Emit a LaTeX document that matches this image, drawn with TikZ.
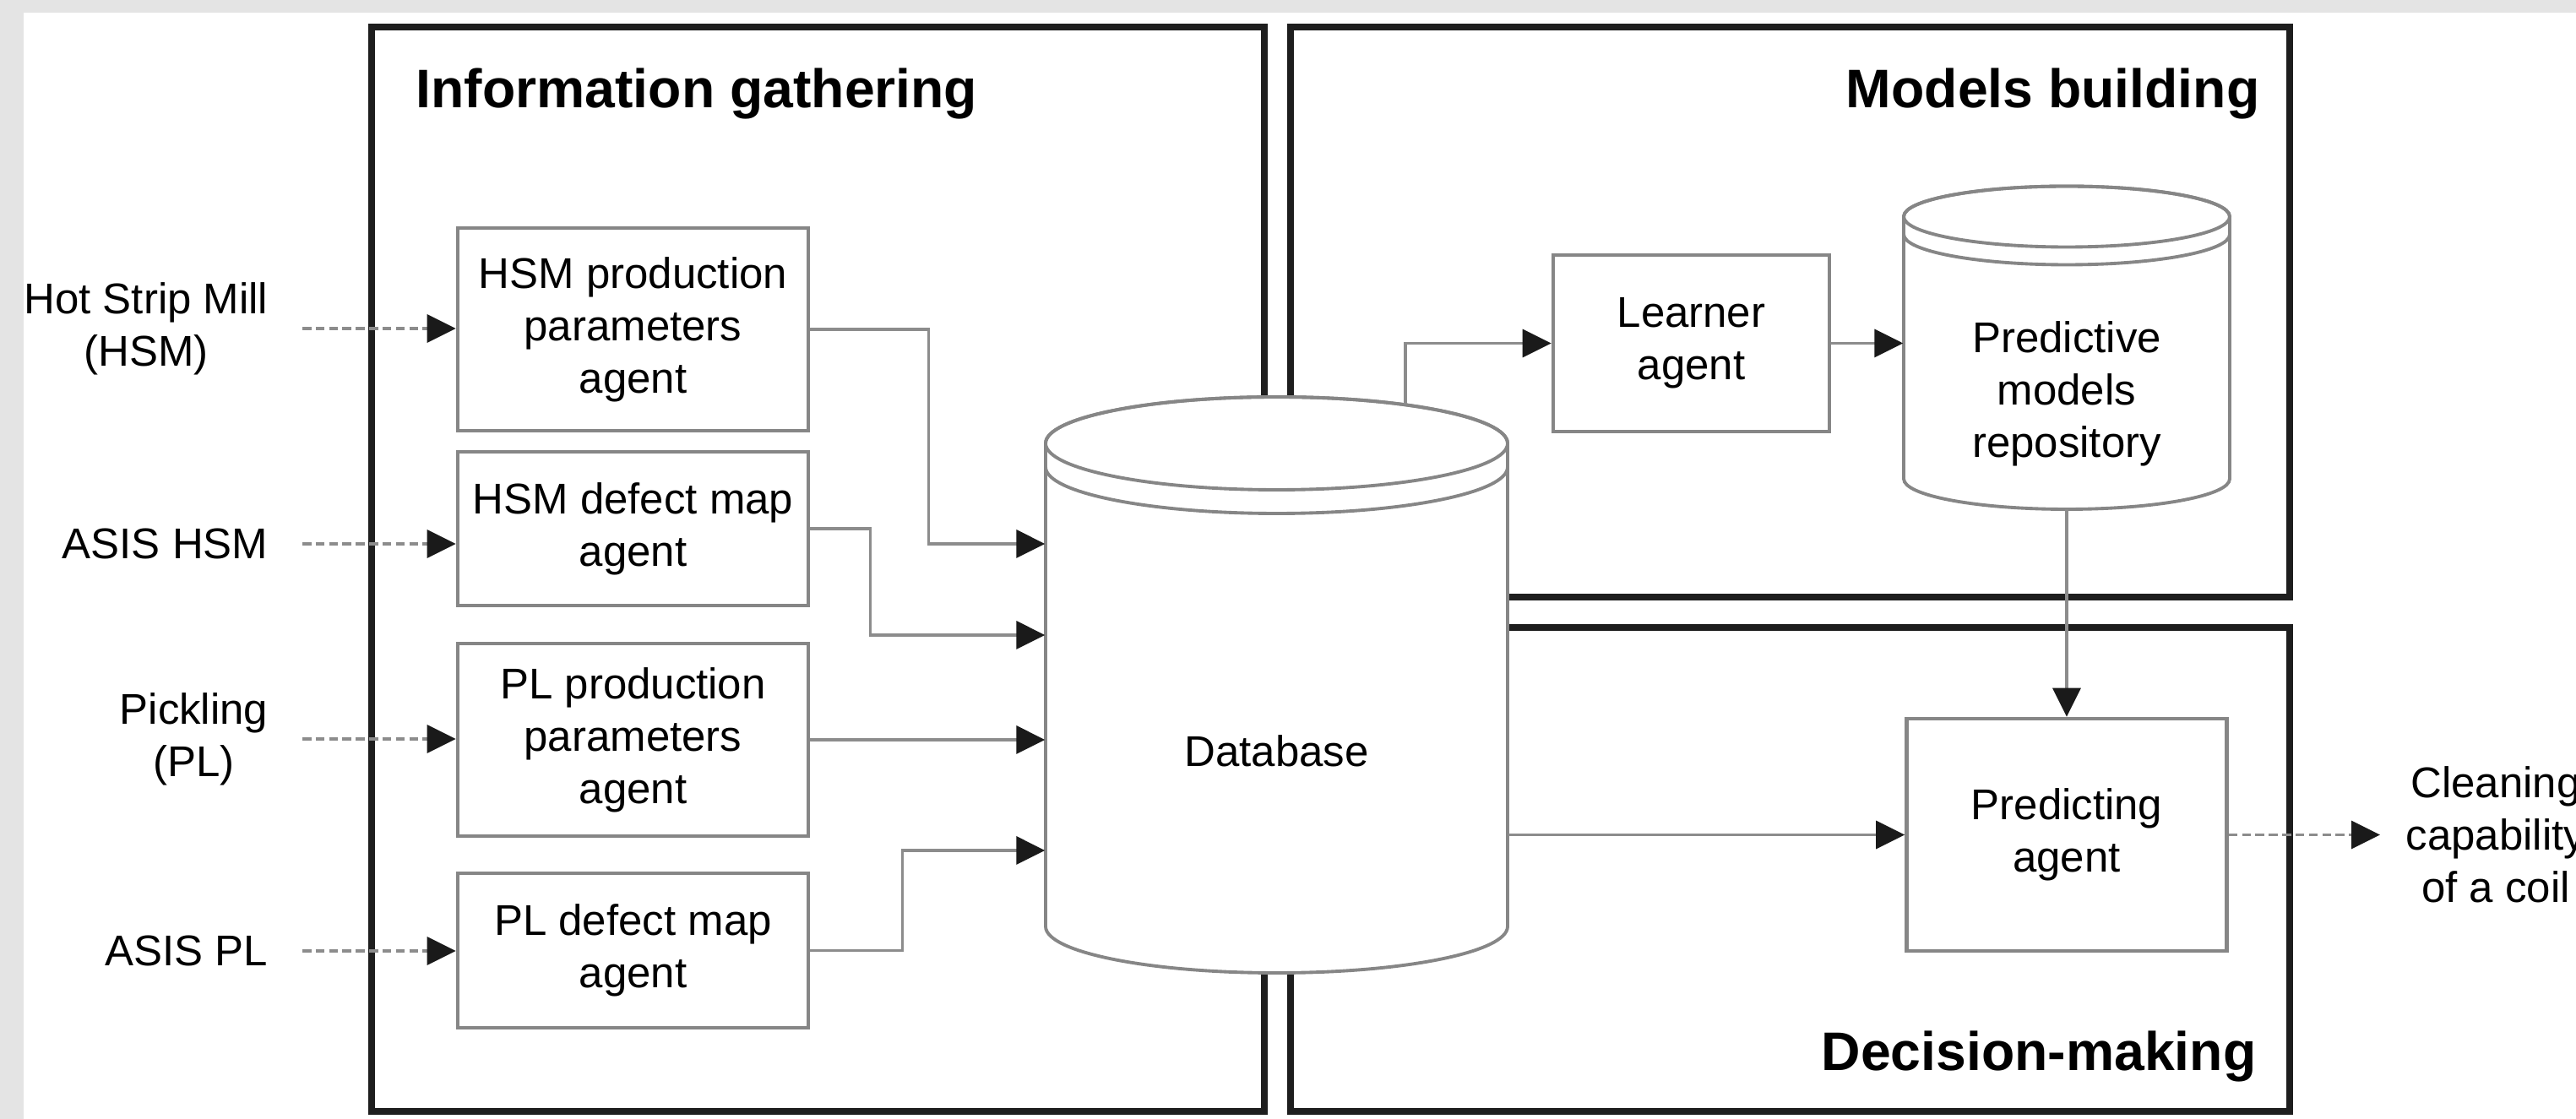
\documentclass[tikz,border=0pt]{standalone}
\usepackage{fontspec}
\setmainfont{Liberation Sans}
\usetikzlibrary{arrows.meta,calc}
\definecolor{Frame}{HTML}{1E1E1E}
\definecolor{Edge}{HTML}{868686}
\definecolor{Wire}{HTML}{8C8C8C}
\definecolor{Tip}{HTML}{1A1A1A}
\definecolor{Shade}{HTML}{E4E4E4}

% drum: centre x, top centre y, bottom centre y, x radius, y radius, band gap
\newcommand{\drum}[6]{%
  \draw[drumline,fill=white] (#1-#4,#2) -- (#1-#4,#3)
    arc[start angle=180,end angle=360,x radius=#4,y radius=#5] -- (#1+#4,#2)
    arc[start angle=0,end angle=180,x radius=#4,y radius=#5] -- cycle;
  \draw[drumline] (#1,#2) ellipse[x radius=#4,y radius=#5];
  \draw[drumline] (#1-#4,#2-#6) arc[start angle=180,end angle=360,x radius=#4,y radius=#5];}

\begin{document}
\begin{tikzpicture}[
      txt/.style={font=\fontsize{14.5}{17.6}\selectfont},
      title/.style={font=\fontsize{18.3}{22}\selectfont\bfseries,inner sep=0pt},
      group/.style={draw=Frame,line width=2.3pt},
      drumline/.style={draw=Edge,line width=1.1pt},
      agent/.style={txt,draw=Edge,line width=1.3pt,fill=white,align=center,inner sep=0pt,minimum width=4.15cm},
      src/.style={txt,align=center,inner xsep=0.4cm,inner ysep=0pt},
      conn/.style={-{Triangle[length=0.34cm,width=0.33cm,color=Tip]},draw=Wire,line width=1pt},
      feed/.style={-{Triangle[length=0.34cm,width=0.33cm,color=Tip]},draw=Wire,line width=0.9pt,dash pattern=on 3pt off 1.5pt}]
  \useasboundingbox (0,0) rectangle (30.5,13.25);
  \fill[Shade] (0,0) rectangle (30.5,13.25);
  \fill[white] (0.28,0) rectangle (30.5,13.10);

  % the three frames
  \draw[group] (4.40,0.09) rectangle (14.97,12.93);
  \draw[group] (15.28,6.18) rectangle (27.11,12.93);
  \draw[group] (15.28,0.09) rectangle (27.11,5.82);
  \node[title,anchor=base west] (tinfo) at (4.92,11.97) {Information gathering};
  \node[title,anchor=base east] (tmodel) at (26.76,11.97) {Models building};
  \node[title,anchor=base east] (tdecide) at (26.72,0.57) {Decision-making};

  % stores
  \drum{15.115}{8.00}{2.28}{2.735}{0.55}{0.28}
  \drum{24.47}{10.685}{7.58}{1.93}{0.36}{0.21}
  \node[txt,minimum width=5.47cm,inner sep=0pt] (db) at (15.115,4.36) {Database};
  \node[txt,align=center,minimum width=3.86cm,inner sep=0pt] (repo) at (24.47,8.59) {Predictive\\models\\repository};
  \coordinate (dbtap) at (16.64,8.457);
  \coordinate (repobot) at (24.47,7.22);

  % agents
  \node[agent,minimum height=2.40cm] (hsmpar) at (7.495,9.35) {HSM production\\parameters\\agent};
  \node[agent,minimum height=1.82cm] (hsmdef) at (7.495,6.99) {HSM defect map\\agent};
  \node[agent,minimum height=2.28cm] (plpar) at (7.495,4.49) {PL production\\parameters\\agent};
  \node[agent,minimum height=1.83cm] (pldef) at (7.495,1.995) {PL defect map\\agent};
  \node[agent,minimum width=3.27cm,minimum height=2.09cm] (learner) at (20.025,9.185) {Learner\\agent};
  \node[agent,minimum width=3.79cm,minimum height=2.75cm] (pred) at (24.47,3.365) {Predicting\\agent};

  % sources and result
  \node[src,anchor=east] (hsm) at (3.58,9.36) {Hot Strip Mill\\(HSM)};
  \node[src,anchor=east] (asishsm) at (3.58,6.81) {ASIS HSM};
  \node[src,anchor=east] (pick) at (3.58,4.50) {Pickling\\(PL)};
  \node[src,anchor=east] (asispl) at (3.58,1.99) {ASIS PL};
  \node[txt,align=center,anchor=west,inner xsep=0.3cm,inner ysep=0pt] (coil) at (28.18,3.365) {Cleaning\\capability\\of a coil};

  \draw[feed] (hsm.east) -- (hsm.east -| hsmpar.west);
  \draw[feed] (asishsm.east) -- (asishsm.east -| hsmdef.west);
  \draw[feed] (pick.east) -- (pick.east -| plpar.west);
  \draw[feed] (asispl.east) -- (asispl.east -| pldef.west);
  \draw[feed] (pred.east) -- (coil.west);

  \draw[conn] (hsmpar.east) -- ++(1.40,0) |- (db.west |- 0,6.81);
  \draw[conn] (hsmdef.east) -- ++(0.71,0) |- (db.west |- 0,5.73);
  \draw[conn] (plpar.east) -- (plpar.east -| db.west);
  \draw[conn] (pldef.east) -- ++(1.09,0) |- (db.west |- 0,3.18);
  \draw[conn] (dbtap) |- (learner.west);
  \draw[conn] (learner.east) -- (learner.east -| repo.west);
  \draw[conn] (repobot) -- (repobot |- pred.north);
  \draw[conn] (pred.west -| db.east) -- (pred.west);
\end{tikzpicture}
\end{document}
